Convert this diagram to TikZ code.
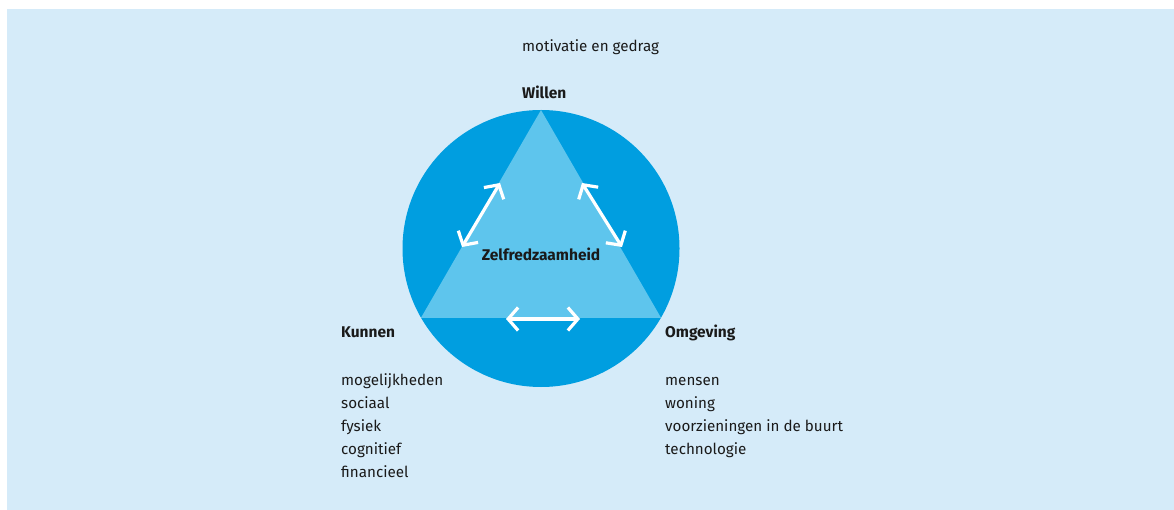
\documentclass[tikz,border=0pt]{standalone}
\usepackage{fontspec}
\setmainfont{Fira Sans}
\usetikzlibrary{arrows.meta}
\definecolor{bgblue}{HTML}{D5EBF9}
\definecolor{circblue}{HTML}{009EE0}
\definecolor{triblue}{HTML}{5EC5ED}
\definecolor{txt}{HTML}{1A1A1A}
\tikzset{
  lbl/.style={anchor=west, inner sep=0pt, text=txt, font=\fontsize{15.2}{18}\selectfont, text height=1.5ex, text depth=.25ex},
  blbl/.style={lbl, font=\fontsize{15.5}{18}\selectfont\bfseries},
  dblarrow/.style={draw=white, line width=3.2pt, {Straight Barb[length=10pt,width=23pt]}-{Straight Barb[length=10pt,width=23pt]}}
}
\begin{document}
\begin{tikzpicture}[x=1pt,y=-1pt]
\useasboundingbox (0,0) rectangle (1174,510);
\fill[bgblue] (7,9) rectangle (1174,510);
\fill[circblue] (541,248.5) circle (138.5);
\coordinate (W) at (541,110);
\coordinate (K) at (421,317.75);
\coordinate (O) at (661,317.75);
\fill[triblue] (W) -- (K) -- (O) -- cycle;
\coordinate (l1) at (500,183);
\coordinate (l2) at (462,247);
\coordinate (r1) at (582,183);
\coordinate (r2) at (622,247);
\coordinate (b1) at (506,319);
\coordinate (b2) at (580,319);
\draw[dblarrow] (l1) -- (l2);
\draw[dblarrow] (r1) -- (r2);
\draw[dblarrow] (b1) -- (b2);
\node[lbl] (mot) at (522,48) {motivatie en gedrag};
\node[blbl] (wil) at (522,95) {Willen};
\node[blbl, anchor=center] (zelf) at (541,257) {Zelfredzaamheid};
\node[blbl] (kun) at (341,334) {Kunnen};
\node[lbl] (k1) at (341,382) {mogelijkheden};
\node[lbl] (k2) at (341,405) {sociaal};
\node[lbl] (k3) at (341,428) {fysiek};
\node[lbl] (k4) at (341,451) {cognitief};
\node[lbl] (k5) at (341,474) {financieel};
\node[blbl] (omg) at (665,334) {Omgeving};
\node[lbl] (o1) at (665,382) {mensen};
\node[lbl] (o2) at (665,405) {woning};
\node[lbl] (o3) at (665,428) {voorzieningen in de buurt};
\node[lbl] (o4) at (665,451) {technologie};
\end{tikzpicture}
\end{document}
